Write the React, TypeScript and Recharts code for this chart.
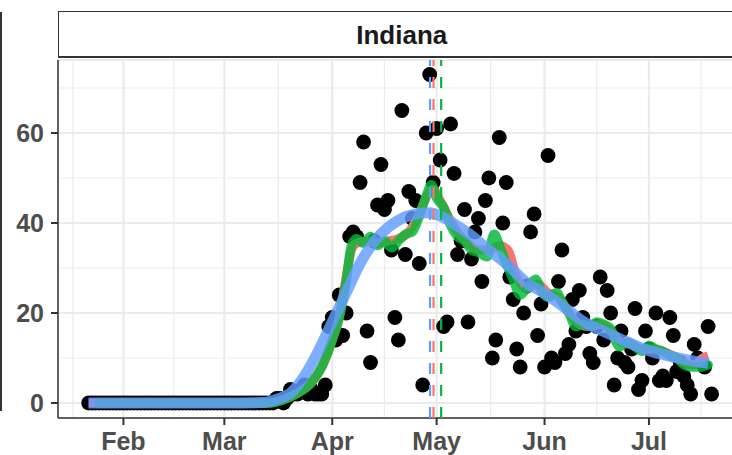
import React from "react";
import {
  ComposedChart,
  Scatter,
  Line,
  XAxis,
  YAxis,
  CartesianGrid,
  ReferenceLine,
} from "recharts";

// day 0 = Feb 1 (2020); daily values start on Jan 22
const FIRST_DAY = -10;
const dailyDeaths = [
  // Jan 22 - Mar 15
  0, 0, 0, 0, 0, 0, 0, 0, 0, 0, 0, 0, 0, 0, 0, 0, 0, 0, 0, 0, 0, 0, 0, 0, 0, 0, 0,
  0, 0, 0, 0, 0, 0, 0, 0, 0, 0, 0, 0, 0, 0, 0, 0, 0, 0, 0, 0, 0, 0, 0, 0, 0, 0, 0,
  // Mar 16 onwards
  1, 1, 0, 1, 3, 2, 2, 3, 4, 2, 3, 2, 2, 2, 4, 17, 19, 14, 24, 15, 20, 37, 38, 37,
  49, 58, 16, 9, 36, 44, 53, 43, 45, 34, 19, 14, 65, 33, 47, 41, 45, 31, 4, 60, 73,
  49, 61, 54, 17, 18, 62, 51, 33, 36, 43, 18, 32, 38, 41, 27, 45, 50, 10, 14, 59, 40,
  49, 28, 23, 12, 8, 20, 26, 38, 42, 15, 22, 8, 55, 10, 9, 27, 34, 11, 13, 23, 16, 25,
  19, 17, 11, 9, 17, 28, 14, 25, 20, 4, 10, 16, 9, 8, 12, 21, 3, 5, 16, 12, 10, 20,
  5, 6, 5, 19, 15, 7, 9, 6, 4, 2, 13, 10, 9, 8, 17, 2,
];

const redDays = [-10, 42, 46, 50, 54, 57, 60, 62, 64, 65.5, 67, 70, 73, 76, 79, 82, 85, 87.5, 89, 91, 93, 96, 99, 102, 105, 108, 110.5, 113, 116, 119, 122, 125, 128, 131, 134, 137, 140, 143, 146, 149, 152, 155, 158, 161, 164, 166.5, 168];
const redVals = [0, 0, 0.8, 2.2, 4.5, 8, 14, 19, 28, 34, 35.5, 36, 35.5, 36, 36.5, 38, 42, 46.5, 47.5, 45, 42, 38, 35.5, 34, 34, 35, 34, 28, 25.5, 26.5, 24.5, 23.5, 20, 17.5, 17, 17.5, 16, 13.5, 13, 12, 12, 11.5, 10.5, 9, 8.5, 10, 10.5];

const greenDays = [-7, 42, 46, 50, 54, 57, 60, 62, 64, 65.5, 67, 69, 71, 73, 75, 77, 79, 81, 83, 85, 87, 88.5, 90, 92, 94, 96, 98, 100, 102, 104.5, 106.5, 108.5, 110, 112, 114, 116, 118.5, 120, 122, 124.5, 126, 128, 130, 132, 134, 136, 138, 140, 142.5, 145, 147, 149, 151, 153, 155, 157, 159, 161, 163, 165.5, 168];
const greenVals = [0, 0, 0.7, 2.2, 4.5, 8, 14, 19, 27, 35, 36.5, 35.5, 37, 35, 36, 34.5, 36, 37.5, 38, 41.5, 46, 48.5, 45.5, 43.5, 39.5, 37, 36, 34, 33.5, 32.5, 37.5, 34, 31, 27.5, 24, 25.5, 27.5, 25, 23.5, 24.5, 22.5, 20, 17, 17.5, 17, 18, 17.5, 16.5, 12.5, 13.5, 12.5, 11.5, 12.8, 12, 11.5, 10.5, 10, 8.5, 8, 8, 8.5];

const blueDays = [-10, 30, 40, 44, 48, 52, 56, 60, 64, 68, 72, 76, 80, 84, 88, 92, 96, 100, 104, 108, 112, 116, 120, 124, 128, 132, 136, 140, 144, 148, 152, 156, 160, 164, 168];
const blueVals = [0, 0, 0.1, 0.8, 2.2, 6, 11.5, 18, 24.5, 31, 35.8, 39, 41, 42, 42.3, 41.2, 39.3, 37.2, 34.6, 32.2, 29.5, 26.6, 24.8, 22.8, 20.5, 18.2, 16.6, 15.2, 13.8, 12.5, 11.4, 10.6, 9.9, 9.3, 8.8];

// days of the peaks (dashed lines)
const peakBlue = 88.1;
const peakRed = 89.1;
const peakGreen = 91.3;

const monthTicks = [0, 29, 60, 90, 121, 151];
const monthLabels = ["Feb", "Mar", "Apr", "May", "Jun", "Jul"];
const minorDayTicks = [-14.5, 14.5, 44.5, 75, 105.5, 136, 166];
const yTicks = [0, 20, 40, 60];
const yMinorTicks = [10, 30, 50, 70];

const X_DOMAIN: [number, number] = [-18.8, 178.6];
const Y_DOMAIN: [number, number] = [-3.33, 76.22];

const toRows = (days: number[], vals: number[]) =>
  days.map((d, i) => ({ day: d, value: vals[i] }));

const pointRows = dailyDeaths.map((v, i) => ({ day: FIRST_DAY + i, value: v }));
const redRows = toRows(redDays, redVals);
const greenRows = toRows(greenDays, greenVals);
const blueRows = toRows(blueDays, blueVals);

const FONT = "'Liberation Sans', Arial, Helvetica, sans-serif";
const tickStyle = { fontSize: 25, fontWeight: 700, fill: "#4D4D4D", fontFamily: FONT };

const Dot = (props: any) => <circle cx={props.cx} cy={props.cy} r={7.4} fill="#000" />;

export default function App() {
  return (
    <div
      style={{
        position: "absolute",
        left: 0,
        top: 0,
        width: 732,
        height: 455,
        overflow: "hidden",
        background: "#fff",
        fontFamily: FONT,
      }}
    >
      {/* edge of the neighbouring facet */}
      <div style={{ position: "absolute", left: 0, top: 12, width: 1.5, height: 399, background: "#333" }} />

      <ComposedChart
        width={745}
        height={455}
        margin={{ top: 60, right: 0, bottom: 0, left: 0 }}
      >
        <XAxis xAxisId="m" type="number" dataKey="day" domain={X_DOMAIN} ticks={minorDayTicks} allowDataOverflow hide />
        <YAxis yAxisId="m" type="number" dataKey="value" domain={Y_DOMAIN} ticks={yMinorTicks} allowDataOverflow hide />
        <CartesianGrid xAxisId="m" yAxisId="m" stroke="#EBEBEB" strokeWidth={1.2} />
        <CartesianGrid stroke="#EBEBEB" strokeWidth={2.2} />

        <XAxis
          type="number"
          dataKey="day"
          domain={X_DOMAIN}
          ticks={monthTicks}
          allowDataOverflow
          height={37}
          tickSize={7}
          tickMargin={7}
          stroke="#333"
          axisLine={{ stroke: "#333", strokeWidth: 1.5 }}
          tickLine={{ stroke: "#333", strokeWidth: 2 }}
          tick={tickStyle}
          tickFormatter={(v: number) => monthLabels[monthTicks.indexOf(v)] ?? ""}
        />
        <YAxis
          type="number"
          dataKey="value"
          domain={Y_DOMAIN}
          ticks={yTicks}
          allowDataOverflow
          width={58}
          tickSize={7}
          tickMargin={7}
          stroke="#333"
          axisLine={{ stroke: "#333", strokeWidth: 1.5 }}
          tickLine={{ stroke: "#333", strokeWidth: 2 }}
          tick={tickStyle}
        />

        {/* daily points sit below the fitted curves */}
        <Scatter
          data={pointRows}
          dataKey="value"
          shape={Dot}
          zIndex={300}
          isAnimationActive={false}
        />
        <Line
          data={redRows}
          dataKey="value"
          type="monotone"
          stroke="#F8766D"
          strokeWidth={9}
          strokeLinecap="butt"
          dot={false}
          zIndex={400}
          isAnimationActive={false}
        />
        <Line
          data={greenRows}
          dataKey="value"
          type="monotone"
          stroke="#00BA38"
          strokeOpacity={0.82}
          strokeWidth={9.5}
          strokeLinecap="round"
          dot={false}
          zIndex={410}
          isAnimationActive={false}
        />
        <Line
          data={blueRows}
          dataKey="value"
          type="monotone"
          stroke="#619CFF"
          strokeOpacity={0.82}
          strokeWidth={11}
          strokeLinecap="butt"
          dot={false}
          zIndex={420}
          isAnimationActive={false}
        />

        <ReferenceLine x={peakBlue} stroke="#619CFF" strokeWidth={2.2} strokeDasharray="11 11" zIndex={700} />
        <ReferenceLine x={peakRed} stroke="#F8766D" strokeWidth={2.2} strokeDasharray="11 11" zIndex={700} />
        <ReferenceLine x={peakGreen} stroke="#00BA38" strokeWidth={2.2} strokeDasharray="11 11" zIndex={700} />
      </ComposedChart>

      {/* facet strip */}
      <div
        style={{
          position: "absolute",
          left: 57.5,
          top: 11,
          width: 745 - 57.5,
          height: 47,
          borderTop: "1.5px solid #333",
          borderLeft: "1.5px solid #333",
          borderBottom: "2px solid #333",
          boxSizing: "border-box",
          background: "#fff",
          display: "flex",
          alignItems: "center",
          justifyContent: "center",
          fontSize: 26,
          fontWeight: 700,
          color: "#1A1A1A",
          paddingTop: 2,
        }}
      >
        Indiana
      </div>
    </div>
  );
}
